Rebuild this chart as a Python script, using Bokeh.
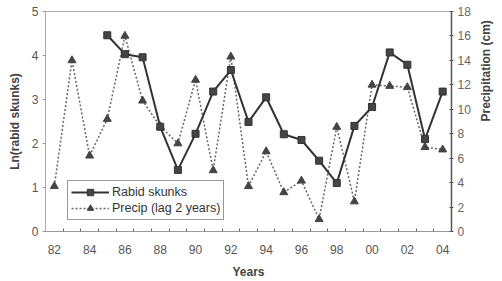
import math
from bokeh.plotting import figure
from bokeh.models import Range1d, LinearAxis, FixedTicker, Legend, LegendItem
from bokeh.embed import file_html
from bokeh.resources import INLINE

# Data
skunk_years = [1985, 1986, 1987, 1988, 1989, 1990, 1991, 1992, 1993, 1994,
               1995, 1996, 1997, 1998, 1999, 2000, 2001, 2002, 2003, 2004]
ln_rabid_skunks = [4.46, 4.03, 3.96, 2.38, 1.40, 2.22, 3.18, 3.67, 2.49, 3.05,
                   2.21, 2.08, 1.61, 1.10, 2.40, 2.83, 4.07, 3.79, 2.10, 3.18]
precip_years = [1982, 1983, 1984, 1985, 1986, 1987, 1988, 1989, 1990, 1991, 1992,
                1993, 1994, 1995, 1996, 1997, 1998, 1999, 2000, 2001, 2002, 2003, 2004]
precip_cm = [3.7, 14.0, 6.2, 9.2, 16.0, 10.7, 8.6, 7.2, 12.4, 5.0, 14.3,
             3.7, 6.55, 3.2, 4.15, 1.0, 8.55, 2.45, 12.0, 11.9, 11.8, 6.9, 6.7]
year_labels = ["82", "84", "86", "88", "90", "92", "94", "96", "98", "00", "02", "04"]
label_years = [1982, 1984, 1986, 1988, 1990, 1992, 1994, 1996, 1998, 2000, 2002, 2004]

FONT = "Liberation Sans"

p = figure(width=502, height=281, output_backend="svg", toolbar_location=None,
           x_range=Range1d(1981.5, 2004.5), y_range=Range1d(0, 5),
           min_border_left=45, min_border_right=50, min_border_top=11, min_border_bottom=50)
p.background_fill_color = "white"
p.border_fill_color = "white"
p.outline_line_color = "#b0b0b0"
p.outline_line_width = 1
p.xgrid.visible = False
p.ygrid.visible = False
p.extra_y_ranges = {"precip": Range1d(0, 18)}

# X axis
xa = p.xaxis[0]
xa.ticker = FixedTicker(ticks=label_years,
                        minor_ticks=[y - 0.5 for y in precip_years] + [2004.5])
xa.major_label_overrides = {y: l for y, l in zip(label_years, year_labels)}
xa.major_tick_in = 0
xa.major_tick_out = 0
xa.minor_tick_in = 3
xa.minor_tick_out = 0
xa.minor_tick_line_color = "#666666"
xa.axis_line_color = "#999999"
xa.major_label_standoff = 13
xa.major_label_text_font = FONT
xa.major_label_text_font_size = "12px"
xa.major_label_text_color = "#555555"
xa.axis_label = "Years"
xa.axis_label_text_font = FONT
xa.axis_label_text_font_size = "12px"
xa.axis_label_text_font_style = "bold"
xa.axis_label_text_color = "#444444"
xa.axis_label_standoff = 8

# Left axis
ya = p.yaxis[0]
ya.ticker = FixedTicker(ticks=[0, 1, 2, 3, 4, 5])
ya.minor_tick_line_color = None
ya.major_tick_in = 0
ya.major_tick_out = 3
ya.major_tick_line_color = "#999999"
ya.axis_line_color = "#aaaaaa"
ya.major_label_standoff = 4
ya.major_label_text_font = FONT
ya.major_label_text_font_size = "12px"
ya.major_label_text_color = "#555555"
ya.axis_label = "Ln(rabid skunks)"
ya.axis_label_text_font = FONT
ya.axis_label_text_font_size = "12px"
ya.axis_label_text_font_style = "bold"
ya.axis_label_text_color = "#444444"
ya.axis_label_standoff = 7

# Right axis
ra = LinearAxis(y_range_name="precip", ticker=FixedTicker(ticks=list(range(0, 19, 2))))
ra.minor_tick_line_color = None
ra.major_tick_in = 2
ra.major_tick_out = 2
ra.major_tick_line_color = "#555555"
ra.axis_line_color = "#555555"
ra.axis_line_width = 1.5
ra.major_label_standoff = 4
ra.major_label_text_font = FONT
ra.major_label_text_font_size = "12px"
ra.major_label_text_color = "#666666"
ra.axis_label = "Precipitation (cm)"
ra.axis_label_text_font = FONT
ra.axis_label_text_font_size = "12px"
ra.axis_label_text_font_style = "bold"
ra.axis_label_text_color = "#444444"
ra.axis_label_standoff = 12
try:
    ra.axis_label_orientation = math.pi / 2
except Exception:
    pass
p.add_layout(ra, "right")

# Precip series (dotted + triangles)
pl = p.line(precip_years, precip_cm, y_range_name="precip", line_color="#666666",
            line_width=1.5, line_dash="2 2")
pm = p.scatter(precip_years, precip_cm, y_range_name="precip", marker="triangle",
               size=8, fill_color="#444444", line_color="#444444")

# Skunk series (solid + squares)
sl = p.line(skunk_years, ln_rabid_skunks, line_color="#333333", line_width=2)
sm = p.scatter(skunk_years, ln_rabid_skunks, marker="square", size=7,
               fill_color="#444444", line_color="#333333")

legend = Legend(items=[LegendItem(label="Rabid skunks", renderers=[sl, sm]),
                       LegendItem(label="Precip (lag 2 years)", renderers=[pl, pm])],
                location=(22, 11))
legend.border_line_color = "#333333"
legend.border_line_width = 1
legend.background_fill_color = "white"
legend.background_fill_alpha = 1
legend.label_text_font = FONT
legend.label_text_font_size = "12.5px"
legend.label_text_color = "#333333"
legend.glyph_width = 38
legend.glyph_height = 16
legend.label_height = 16
legend.label_standoff = 3
legend.padding = 3
legend.spacing = 0
legend.margin = 0
p.add_layout(legend, "center")

open("out.html", "w").write(file_html(p, INLINE))
